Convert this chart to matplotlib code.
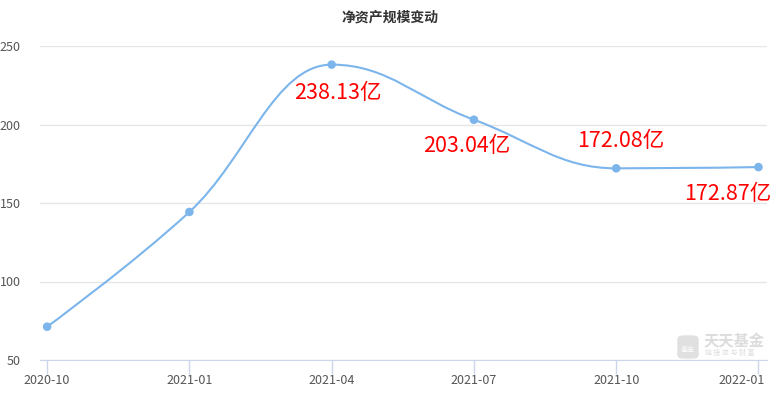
import matplotlib.pyplot as plt
import matplotlib.transforms as mtransforms
from matplotlib.patches import FancyBboxPatch
from matplotlib.path import Path
from matplotlib.patches import PathPatch
import numpy as np

plt.rcParams['font.family'] = ['Noto Sans CJK SC', 'DejaVu Sans']

dates = ['2020-10', '2021-01', '2021-04', '2021-07', '2021-10', '2022-01']
nav = [71.2, 144.3, 238.13, 203.04, 172.08, 172.87]
labels = ['', '', '238.13亿', '203.04亿', '172.08亿', '172.87亿']
label_dy = [0, 0, -28, -26, 27, -27]
label_dx = [0, 0, 6, -7, 5, -31]

line_color = '#7cb5ec'


def spline_path(xs, ys, smoothing=1.5):
    # highcharts-like spline: cubic bezier between points
    n = len(xs)
    lc = [None] * n
    rc = [None] * n
    denom = smoothing + 1
    for i in range(1, n - 1):
        px, py = xs[i], ys[i]
        lx, ly = xs[i - 1], ys[i - 1]
        nx, ny = xs[i + 1], ys[i + 1]
        lcx = (smoothing * px + lx) / denom
        lcy = (smoothing * py + ly) / denom
        rcx = (smoothing * px + nx) / denom
        rcy = (smoothing * py + ny) / denom
        corr = (rcy - lcy) * (rcx - px) / (rcx - lcx) + py - rcy
        lcy += corr
        rcy += corr
        if lcy > ly and lcy > py:
            lcy = max(ly, py)
            rcy = 2 * py - lcy
        elif lcy < ly and lcy < py:
            lcy = min(ly, py)
            rcy = 2 * py - lcy
        if rcy > ny and rcy > py:
            rcy = max(ny, py)
            lcy = 2 * py - rcy
        elif rcy < ny and rcy < py:
            rcy = min(ny, py)
            lcy = 2 * py - rcy
        lc[i] = (lcx, lcy)
        rc[i] = (rcx, rcy)
    verts = [(xs[0], ys[0])]
    codes = [Path.MOVETO]
    for i in range(1, n):
        c1 = rc[i - 1] if rc[i - 1] else (xs[i - 1], ys[i - 1])
        c2 = lc[i] if lc[i] else (xs[i], ys[i])
        verts += [c1, c2, (xs[i], ys[i])]
        codes += [Path.CURVE4] * 3
    return Path(verts, codes)


fig = plt.figure(figsize=(7.81, 4.0), dpi=100)
ax = fig.add_axes([40 / 781, 0.1, 727 / 781, 0.785])

x = np.arange(len(dates))
ax.set_xlim(-0.05, len(dates) - 1 + 0.06)
ax.set_ylim(50, 250)

ax.add_patch(PathPatch(spline_path(list(x), nav), fill=False, edgecolor=line_color,
                       lw=1.5, zorder=3, capstyle='round', joinstyle='round'))
ax.scatter(x, nav, s=38, color=line_color, zorder=4, edgecolors='none')

for i, lab in enumerate(labels):
    if lab:
        ax.annotate(lab, (x[i], nav[i]), xytext=(label_dx[i], label_dy[i]),
                    textcoords='offset pixels', ha='center', va='center',
                    color='#ff0000', fontsize=15.5, zorder=5)

ax.set_yticks([50, 100, 150, 200, 250])
ax.grid(axis='y', color='#e6e6e6', lw=1)
ax.set_axisbelow(True)
ax.set_xticks(x)
ax.set_xticklabels(dates)
ax.tick_params(axis='x', length=10, color='#ccd6eb', width=1, labelsize=9,
               labelcolor='#555555', pad=0)
ax.tick_params(axis='y', length=0, labelsize=9, labelcolor='#555555', pad=14)
for s in ['top', 'right', 'left']:
    ax.spines[s].set_visible(False)
ax.spines['bottom'].set_color('#ccd6eb')

# keep last x label inside the canvas
last = ax.get_xticklabels()[-1]
last.set_ha('right')
last.set_transform(last.get_transform() +
                   mtransforms.ScaledTranslation(6 / 100, 0, fig.dpi_scale_trans))

fig.text(0.5, 1 - 18 / 400, '净资产规模变动', ha='center', va='center',
         fontsize=10, fontweight='bold', color='#333333')

# watermark
fig.patches.append(FancyBboxPatch((678 / 781, 1 - 358 / 400), 20 / 781, 22 / 400,
                                  boxstyle='round,pad=0,rounding_size=0.008',
                                  transform=fig.transFigure, color='#e0e0e0', zorder=0))
fig.text(688 / 781, 1 - 350 / 400, '基金', ha='center', va='center', fontsize=5,
         color='white')
fig.text(704 / 781, 1 - 341 / 400, '天天基金', ha='left', va='center', fontsize=11,
         fontweight='bold', color='#dcdcdc')
fig.text(705 / 781, 1 - 353 / 400, '链 接 您 与 财 富', ha='left', va='center',
         fontsize=5, color='#dcdcdc')

fig.savefig('out.png', dpi=100)
